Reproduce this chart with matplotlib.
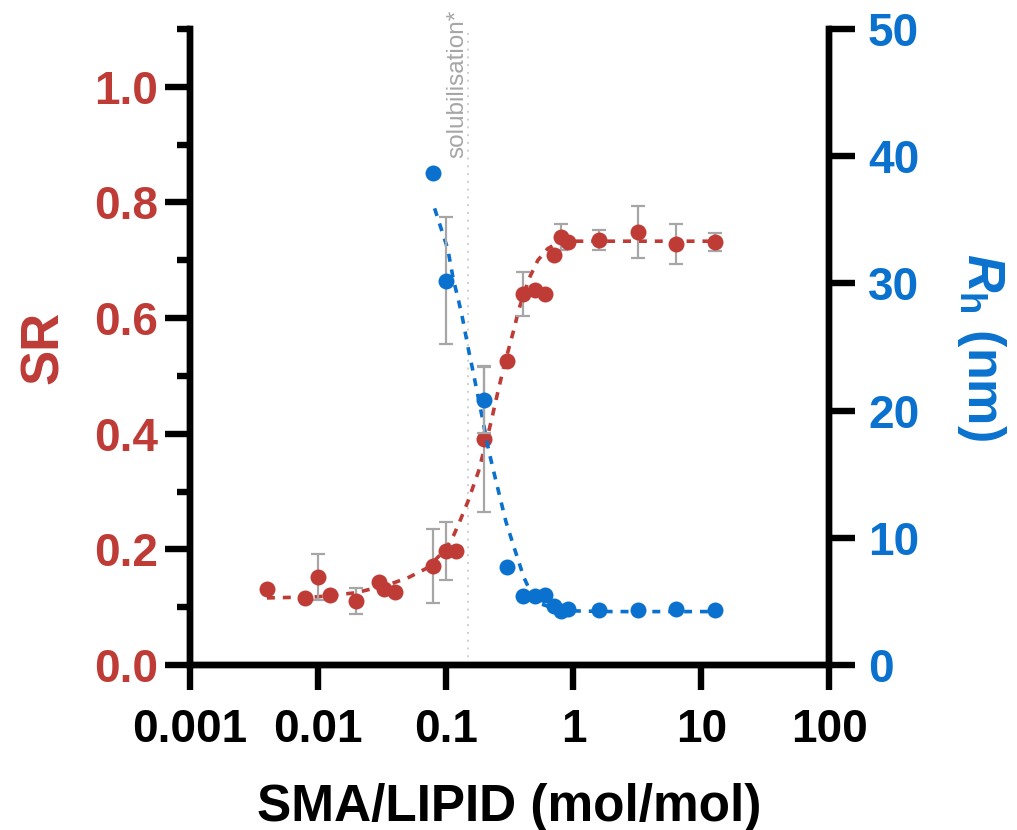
import matplotlib
matplotlib.use("Agg")
import matplotlib.pyplot as plt
from matplotlib.ticker import FixedLocator, NullLocator, FixedFormatter

plt.rcParams['font.family'] = ['Liberation Sans', 'DejaVu Sans']
plt.rcParams['mathtext.fontset'] = 'custom'
plt.rcParams['mathtext.rm'] = 'Liberation Sans:bold'
plt.rcParams['mathtext.it'] = 'Liberation Sans:italic:bold'
plt.rcParams['mathtext.bf'] = 'Liberation Sans:bold'

RED = '#BE3B36'
BLUE = '#0A72CE'
GREY = '#A6A6A6'

# ---- data ----
sr_x = [0.004, 0.008, 0.01, 0.0125, 0.02, 0.03, 0.033, 0.04, 0.08, 0.1, 0.12,
        0.2, 0.3, 0.4, 0.5, 0.6, 0.7, 0.8, 0.9, 1.6, 3.2, 6.4, 12.8]
sr_y = [0.131, 0.116, 0.152, 0.121, 0.111, 0.144, 0.131, 0.126, 0.171, 0.197, 0.197,
        0.391, 0.526, 0.642, 0.649, 0.642, 0.709, 0.740, 0.732, 0.735, 0.749, 0.728, 0.732]
sr_err = [0, 0, 0.040, 0, 0.023, 0, 0, 0, 0.064, 0.050, 0,
          0.127, 0, 0.038, 0, 0, 0, 0.022, 0, 0.018, 0.045, 0.035, 0.016]

rh_x = [0.08, 0.1, 0.2, 0.3, 0.4, 0.5, 0.6, 0.7, 0.8, 0.9, 1.6, 3.2, 6.4, 12.8]
rh_y = [38.7, 30.2, 20.8, 7.7, 5.4, 5.4, 5.5, 4.6, 4.25, 4.4, 4.3, 4.3, 4.4, 4.3]
rh_err = [0, 5.0, 2.6, 0, 0, 0, 0, 0, 0, 0, 0, 0, 0, 0]

sr_fit_x = [0.004, 0.01, 0.02, 0.037, 0.052, 0.072, 0.1, 0.116, 0.13, 0.149, 0.181,
            0.2, 0.226, 0.255, 0.285, 0.342, 0.374, 0.449, 0.527, 0.629, 0.754,
            1.0, 2.0, 5.0, 12.8]
sr_fit_y = [0.116, 0.118, 0.125, 0.140, 0.152, 0.168, 0.200, 0.225, 0.250, 0.282, 0.335,
            0.372, 0.419, 0.470, 0.515, 0.580, 0.615, 0.668, 0.700, 0.720, 0.730,
            0.733, 0.733, 0.733, 0.733]

rh_fit_x = [0.082, 0.091, 0.104, 0.115, 0.126, 0.136, 0.151, 0.163, 0.188, 0.217,
            0.246, 0.296, 0.342, 0.409, 0.465, 0.558, 0.733, 1.05, 2.0, 5.0, 12.8]
rh_fit_y = [35.9, 34.5, 32.7, 30.3, 28.7, 27.2, 24.8, 23.2, 20.1, 16.9,
            14.6, 11.3, 9.3, 6.9, 5.7, 4.8, 4.4, 4.25, 4.2, 4.2, 4.2]

solub_x = 0.15
x_ticks = [0.001, 0.01, 0.1, 1, 10, 100]
x_labels = ['0.001', '0.01', '0.1', '1', '10', '100']
sr_ticks = [0.0, 0.2, 0.4, 0.6, 0.8, 1.0]
sr_labels = ['0.0', '0.2', '0.4', '0.6', '0.8', '1.0']
sr_minor = [0.1, 0.3, 0.5, 0.7, 0.9, 1.1]
rh_ticks = [0, 10, 20, 30, 40, 50]
rh_labels = ['0', '10', '20', '30', '40', '50']

# ---- figure ----
fig = plt.figure(figsize=(10.17, 8.30), dpi=100)
ax = fig.add_axes([190/1017, 1 - 665/830, (829-190)/1017, (665-29)/830])
ax2 = ax.twinx()

ax.set_xscale('log')
ax.set_xlim(0.001, 100)
ax.set_ylim(0, 1.1)
ax2.set_ylim(0, 50)

LW = 4.6
for a in (ax, ax2):
    for s in a.spines.values():
        s.set_linewidth(LW)
    a.spines['top'].set_visible(False)
    a.patch.set_visible(False)

# vertical solubilisation line
ax.axvline(solub_x, color='#CFCFCF', lw=1.4, ls=(0, (1, 3)), zorder=0)
ax.text(solub_x, 1.03, 'solubilisation*', transform=ax.get_xaxis_transform(),
        rotation=90, ha='right', va='top', color=GREY, fontsize=17.5,
        fontweight='normal', clip_on=False)

# SR series
dash = (0, (2.2, 2.2))
ax.plot(sr_fit_x, sr_fit_y, color=RED, lw=2.6, ls=dash, zorder=2)
ex = [x for x, e in zip(sr_x, sr_err) if e > 0]
ey = [y for y, e in zip(sr_y, sr_err) if e > 0]
ee = [e for e in sr_err if e > 0]
ax.errorbar(ex, ey, yerr=ee, fmt='none', ecolor=GREY, elinewidth=1.6,
            capsize=4.8, capthick=1.6, zorder=3)
ax.plot(sr_x, sr_y, 'o', color=RED, ms=11.5, mec='none', zorder=4)

# Rh series
ax2.plot(rh_fit_x, rh_fit_y, color=BLUE, lw=2.6, ls=dash, zorder=2)
bx = [x for x, e in zip(rh_x, rh_err) if e > 0]
by = [y for y, e in zip(rh_y, rh_err) if e > 0]
be = [e for e in rh_err if e > 0]
ax2.errorbar(bx, by, yerr=be, fmt='none', ecolor=GREY, elinewidth=1.6,
             capsize=4.8, capthick=1.6, zorder=3)
ax2.plot(rh_x, rh_y, 'o', color=BLUE, ms=11.5, mec='none', zorder=4)

# ticks
ax.xaxis.set_major_locator(FixedLocator(x_ticks))
ax.xaxis.set_major_formatter(FixedFormatter(x_labels))
ax.xaxis.set_minor_locator(NullLocator())
ax.yaxis.set_major_locator(FixedLocator(sr_ticks))
ax.yaxis.set_major_formatter(FixedFormatter(sr_labels))
ax.yaxis.set_minor_locator(FixedLocator(sr_minor))
ax2.yaxis.set_major_locator(FixedLocator(rh_ticks))
ax2.yaxis.set_major_formatter(FixedFormatter(rh_labels))
ax2.yaxis.set_minor_locator(NullLocator())

TS = 33
ax.tick_params(axis='x', which='major', direction='out', length=18, width=LW,
               labelsize=TS, pad=13, colors='black')
ax.tick_params(axis='y', which='major', direction='out', length=18, width=LW,
               labelsize=TS, pad=5, labelcolor=RED, color='black')
ax.tick_params(axis='y', which='minor', direction='out', length=9.5, width=LW,
               color='black')
ax2.tick_params(axis='y', which='major', direction='out', length=19, width=LW,
                labelsize=TS, pad=9, labelcolor=BLUE, color='black')

for lab in ax.get_xticklabels() + ax.get_yticklabels() + ax2.get_yticklabels():
    lab.set_fontweight('bold')

ax.set_xlabel('SMA/LIPID (mol/mol)', fontsize=37, fontweight='bold', labelpad=22)
ax.set_ylabel('SR', fontsize=38, fontweight='bold', color=RED, labelpad=18)
ax2.set_ylabel(r'$R_{\mathrm{h}}$ (nm)', fontsize=37.5, fontweight='bold',
               color=BLUE, rotation=-90, va='bottom', labelpad=26)

fig.savefig('out.png', dpi=100)
